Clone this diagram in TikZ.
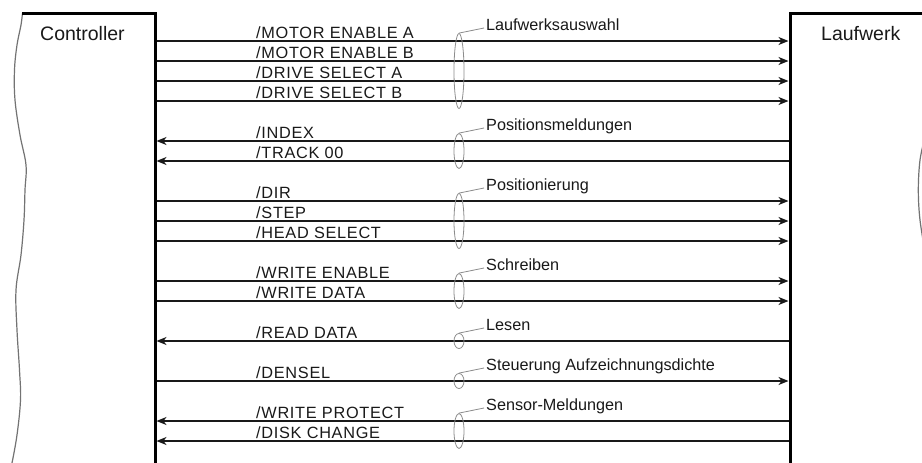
\documentclass[tikz,border=0pt]{standalone}
\usepackage{fontspec}
\setmainfont{Liberation Sans}
\newfontfamily\sigfont[LetterSpace=4.3]{Liberation Sans}
\usetikzlibrary{arrows.meta,shapes.geometric}
\begin{document}
\begin{tikzpicture}[x=1pt,y=-1pt,
  boxline/.style={line width=3pt,black,line join=miter},
  wavy/.style={line width=1.2pt,black!55},
  sig/.style={line width=1.5pt,draw=black!90},
  arr/.style={-{Stealth[length=10pt,width=8pt,inset=3pt]}},
  grp/.style={draw=black!45,line width=0.8pt},
  sigl/.style={anchor=base west,inner sep=0pt,font=\sigfont\fontsize{16.3}{19}\selectfont,text=black!90},
  grpl/.style={anchor=base west,inner sep=0pt,font=\fontsize{16.2}{19}\selectfont,text=black!90},
  titl/.style={anchor=base west,inner sep=0pt,font=\fontsize{19.5}{22}\selectfont,text=black!90},
  ell/.style={ellipse,draw=black!45,line width=0.8pt,inner sep=0pt,minimum width=10pt}]
\useasboundingbox[fill=white] (0,0) rectangle (922,463);

% Controller block
\draw[wavy] plot[smooth,tension=0.6] coordinates {(22.5,13) (21,25) (17,45) (14.5,70) (15,100) (20,135) (26,165) (25,190) (24,220) (21,255) (16,290) (17,330) (19.5,370) (20.5,400) (17,435) (12,463)};
\draw[boxline] (22,13) -- (155,13) -- (155,464);
\node[titl] (ctl) at (40,40) {Controller};

% Laufwerk block
\draw[boxline] (923,13) -- (790,13) -- (790,464);
\draw[wavy] plot[smooth,tension=0.6] coordinates {(923,145) (920,160) (918.5,180) (918.5,200) (920,220) (923,240)};
\node[titl] (lw) at (821,40) {Laufwerk};

% signals
\foreach \i/\y/\lab/\d in {
  1/41/{/MOTOR ENABLE A}/o,
  2/61/{/MOTOR ENABLE B}/o,
  3/81/{/DRIVE SELECT A}/o,
  4/101/{/DRIVE SELECT B}/o,
  5/141/{/INDEX}/i,
  6/161/{/TRACK 00}/i,
  7/201/{/DIR}/o,
  8/221/{/STEP}/o,
  9/241/{/HEAD SELECT}/o,
  10/281/{/WRITE ENABLE}/o,
  11/301/{/WRITE DATA}/o,
  12/341/{/READ DATA}/i,
  13/381/{/DENSEL}/o,
  14/421/{/WRITE PROTECT}/i,
  15/441/{/DISK CHANGE}/i}{
  \coordinate (c\i) at (156.5,\y);
  \coordinate (l\i) at (788.5,\y);
  \node[sigl] (t\i) at (256,\y-2.5) {\lab};
  \if o\d
    \draw[sig,arr] (c\i) -- (l\i);
  \else
    \draw[sig,arr] (l\i) -- (c\i);
  \fi
}

% groups
\foreach \g/\f/\l/\lab in {
  1/41/101/Laufwerksauswahl,
  2/141/161/Positionsmeldungen,
  3/201/241/Positionierung,
  4/281/301/Schreiben,
  5/341/341/Lesen,
  6/381/381/Steuerung Aufzeichnungsdichte,
  7/421/441/Sensor-Meldungen}{
  \pgfmathsetmacro{\h}{\l-\f+15}
  \node[ell,minimum height=\h pt] (e\g) at (459,{(\f+\l)/2}) {};
  \node[grpl] (g\g) at (486,\f-10.5) {\lab};
  \draw[grp] (e\g.north) -- ([xshift=-2pt,yshift=2.5pt]g\g.base west);
}
\end{tikzpicture}
\end{document}
